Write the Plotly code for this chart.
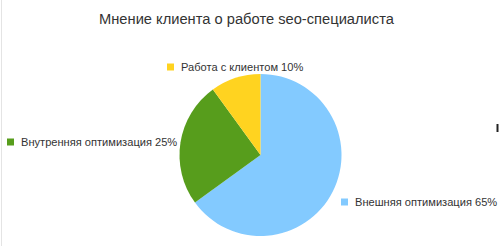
import plotly.graph_objects as go

title = "Мнение клиента о работе seo-специалиста"
labels = ["Внешняя оптимизация", "Внутренняя оптимизация", "Работа с клиентом"]
values = [65, 25, 10]
colors = ["#83caff", "#579d1c", "#ffd320"]

W, H = 500, 246

# label layout (pixel positions of text start and vertical center)
label_pos = {
    "Внешняя оптимизация": (353, 202),
    "Внутренняя оптимизация": (19, 142),
    "Работа с клиентом": (179, 67),
}

def px(x):
    return x / W

def py(y):
    return 1 - y / H

cx, cy, r = 260.5, 155, 81

fig = go.Figure(go.Pie(
    labels=labels,
    values=values,
    marker=dict(colors=colors, line=dict(width=0)),
    sort=False,
    direction="clockwise",
    rotation=0,
    textinfo="none",
    hoverinfo="label+percent",
    showlegend=False,
    domain=dict(x=[px(cx - r), px(cx + r)], y=[py(cy + r), py(cy - r)]),
))

annotations = []
shapes = []
font_family = "Liberation Sans, Arial, sans-serif"
for lab, val, col in zip(labels, values, colors):
    x0, yc = label_pos[lab]
    annotations.append(dict(
        x=px(x0), y=py(yc), xref="paper", yref="paper",
        xanchor="left", yanchor="middle", showarrow=False,
        text=f"{lab} {val}%",
        font=dict(family=font_family, size=11.1, color="#333333"),
    ))
    s = 7
    sx = x0 - 12
    shapes.append(dict(
        type="rect", xref="paper", yref="paper",
        x0=px(sx), x1=px(sx + s), y0=py(yc + s / 2), y1=py(yc - s / 2),
        fillcolor=col, line=dict(width=0),
    ))

annotations.append(dict(
    x=px(246.5), y=py(19), xref="paper", yref="paper",
    xanchor="center", yanchor="middle", showarrow=False,
    text=title,
    font=dict(family=font_family, size=14.7, color="#333333"),
))

# left border line
shapes.append(dict(type="line", xref="paper", yref="paper",
                   x0=px(1.5), x1=px(1.5), y0=0, y1=1,
                   line=dict(color="#e4e4e4", width=1)))
# small dark mark at right edge
shapes.append(dict(type="line", xref="paper", yref="paper",
                   x0=px(497.5), x1=px(497.5), y0=py(124), y1=py(132),
                   line=dict(color="#222222", width=2)))

fig.update_layout(
    width=W, height=H,
    margin=dict(l=0, r=0, t=0, b=0),
    paper_bgcolor="white",
    plot_bgcolor="white",
    annotations=annotations,
    shapes=shapes,
)

fig.write_html("out.html")
